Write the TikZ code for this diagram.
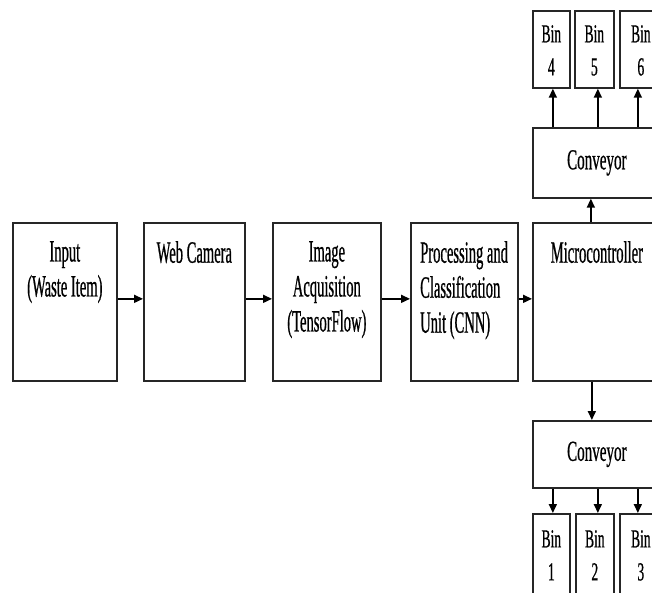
\documentclass[tikz,border=0pt]{standalone}
\usepackage{fontspec}
\setmainfont{Liberation Serif}
\newfontfamily\condm[FakeStretch=0.47,FakeBold=0.6]{Liberation Serif}
\newfontfamily\condb[FakeStretch=0.52,FakeBold=0.6]{Liberation Serif}
\usetikzlibrary{arrows.meta}
\begin{document}
\begin{tikzpicture}[x=1pt,y=-1pt,
  box/.style={draw=black!85,line width=1.7pt,inner sep=0pt,anchor=north west},
  arr/.style={-{Triangle[length=9pt,width=8pt]},line width=1.6pt},
  lbl/.style={font=\condm\fontsize{31}{35}\selectfont,align=center,inner sep=0pt,anchor=north},
  binlbl/.style={font=\condb\fontsize{26}{33}\selectfont,align=center,inner sep=0pt,anchor=north},
  convlbl/.style={font=\condb\fontsize{29}{33}\selectfont,inner sep=0pt}]
\useasboundingbox (0,0) rectangle (652,593);
\clip (0,0) rectangle (652,593);
% main row
\node[box,minimum width=104pt,minimum height=158pt] (inp) at (12,222) {};
\node[box,minimum width=101pt,minimum height=158pt] (cam) at (143,222) {};
\node[box,minimum width=108pt,minimum height=158pt] (acq) at (272,222) {};
\node[box,minimum width=107pt,minimum height=158pt] (proc) at (410,222) {};
\node[box,minimum width=128pt,minimum height=158pt] (mcu) at (532,222) {};
% conveyors
\node[box,minimum width=128pt,minimum height=70pt] (convU) at (532,127) {};
\node[box,minimum width=128pt,minimum height=67pt] (convD) at (532,420) {};
% bins top
\node[box,minimum width=37pt,minimum height=77pt] (bin4) at (532,10) {};
\node[box,minimum width=39pt,minimum height=77pt] (bin5) at (574,10) {};
\node[box,minimum width=42pt,minimum height=77pt] (bin6) at (619,10) {};
% bins bottom
\node[box,minimum width=37pt,minimum height=90pt] (bin1) at (532,513) {};
\node[box,minimum width=38pt,minimum height=90pt] (bin2) at (575,513) {};
\node[box,minimum width=42pt,minimum height=90pt] (bin3) at (619,513) {};
% labels
\node[lbl] (inpt) at ([yshift=-19pt]inp.north) {Input\\(Waste Item)};
\node[lbl] (camt) at ([yshift=-19pt]cam.north) {Web Camera};
\node[lbl] (acqt) at ([yshift=-19pt]acq.north) {Image\\Acquisition\\(TensorFlow)};
\node[lbl,anchor=north west,align=left] (proct) at ([xshift=10pt,yshift=-19pt]proc.north west) {Processing and\\Classification\\Unit (CNN)};
\node[lbl] (mcut) at ([yshift=-19pt]mcu.north) {Microcontroller};
\node[convlbl] (convUt) at (convU.center) {Conveyor};
\node[convlbl] (convDt) at (convD.center) {Conveyor};
\node[binlbl] (b4t) at ([yshift=-15pt]bin4.north) {Bin\\4};
\node[binlbl] (b5t) at ([yshift=-15pt]bin5.north) {Bin\\5};
\node[binlbl] (b6t) at ([yshift=-15pt]bin6.north) {Bin\\6};
\node[binlbl] (b1t) at ([yshift=-17pt]bin1.north) {Bin\\1};
\node[binlbl] (b2t) at ([yshift=-17pt]bin2.north) {Bin\\2};
\node[binlbl] (b3t) at ([yshift=-17pt]bin3.north) {Bin\\3};
% arrows main row
\draw[arr] ([yshift=3pt]inp.east) -- ([yshift=3pt]cam.west);
\draw[arr] ([yshift=3pt]cam.east) -- ([yshift=3pt]acq.west);
\draw[arr] ([yshift=3pt]acq.east) -- ([yshift=3pt]proc.west);
\draw[arr] ([yshift=3pt]proc.east) -- ([yshift=3pt]mcu.west);
% to conveyors
\draw[arr] ([xshift=-6pt]mcu.north) -- ([xshift=-6pt]convU.south);
\draw[arr] ([xshift=-5pt]mcu.south) -- ([xshift=-5pt]convD.north);
% to bins top
\draw[arr] ([xshift=1.5pt]bin4.south |- convU.north) -- ([xshift=1.5pt]bin4.south);
\draw[arr] ([xshift=3.5pt]bin5.south |- convU.north) -- ([xshift=3.5pt]bin5.south);
\draw[arr] ([xshift=-3pt]bin6.south |- convU.north) -- ([xshift=-3pt]bin6.south);
% to bins bottom
\draw[arr] ([xshift=1.5pt]bin1.north |- convD.south) -- ([xshift=1.5pt]bin1.north);
\draw[arr] ([xshift=3pt]bin2.north |- convD.south) -- ([xshift=3pt]bin2.north);
\draw[arr] ([xshift=-3pt]bin3.north |- convD.south) -- ([xshift=-3pt]bin3.north);
\end{tikzpicture}
\end{document}
